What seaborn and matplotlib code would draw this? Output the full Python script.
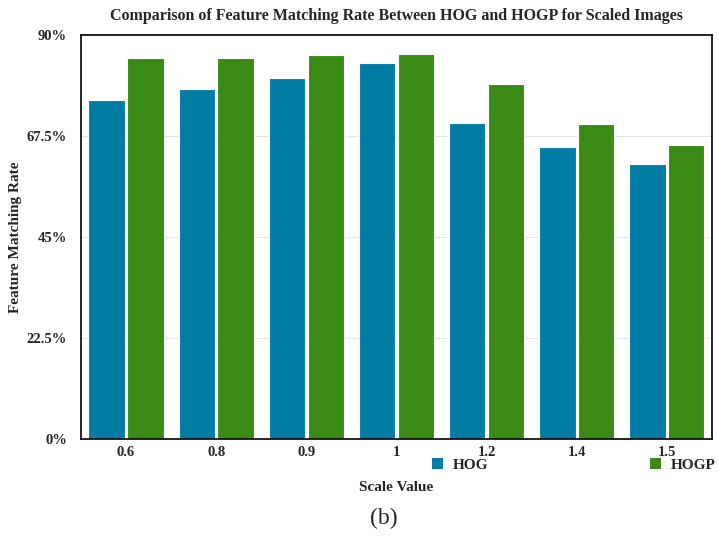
import numpy as np
import pandas as pd
import seaborn as sns
import matplotlib.pyplot as plt
from matplotlib.patches import Patch

scales = ["0.6", "0.8", "0.9", "1", "1.2", "1.4", "1.5"]
hog = [75.6, 77.9, 80.5, 83.7, 70.4, 65.0, 61.2]
hogp = [84.9, 84.9, 85.5, 85.8, 79.1, 70.1, 65.5]
methods = ["HOG", "HOGP"]
colors = ["#027ca3", "#3a8a16"]
yticks = [0, 22.5, 45, 67.5, 90]
ytick_labels = ["0%", "22.5%", "45%", "67.5%", "90%"]

df = pd.DataFrame({
    "scale": scales * 2,
    "rate": hog + hogp,
    "method": ["HOG"] * len(scales) + ["HOGP"] * len(scales),
})

sns.set_style("white")
plt.rcParams["font.family"] = ["Liberation Serif", "DejaVu Serif"]
plt.rcParams["font.weight"] = "bold"

fig = plt.figure(figsize=(7.18, 5.47), dpi=100)
ax = fig.add_axes([0.1128, 0.1974, 0.8788, 0.7386])

sns.barplot(data=df, x="scale", y="rate", hue="method", order=scales,
            hue_order=methods, palette=colors, width=0.86, gap=0.06,
            edgecolor="white", linewidth=0.8, saturation=1, ax=ax, legend=False)

ax.set_ylim(0, 90)
ax.set_xlim(-0.5, len(scales) - 0.5)
ax.set_yticks(yticks)
ax.set_yticklabels(ytick_labels)
ax.yaxis.grid(True, color="#e4e4e4", linewidth=0.8)
ax.set_axisbelow(True)
ax.tick_params(axis="y", length=0, labelsize=10.5, pad=10)
ax.tick_params(axis="x", length=0, labelsize=10.5, pad=5)
for lab in ax.get_xticklabels() + ax.get_yticklabels():
    lab.set_fontweight("bold")
for sp in ax.spines.values():
    sp.set_color("black")
    sp.set_linewidth(1.2)

ax.set_xlabel("Scale Value", fontsize=11, fontweight="bold")
ax.xaxis.set_label_coords(0.5, -0.104)
ax.set_ylabel("Feature Matching Rate", fontsize=11, fontweight="bold")
ax.yaxis.set_label_coords(-0.093, 0.5)
ax.set_title("Comparison of Feature Matching Rate Between HOG and HOGP for Scaled Images",
             fontsize=11.5, fontweight="bold", pad=11)

handles = [Patch(facecolor=c, edgecolor="none") for c in colors]
ax.legend(handles, methods, ncol=2, frameon=False, loc="upper left",
          bbox_to_anchor=(0.534, -0.012), handlelength=0.75, handleheight=0.75,
          handletextpad=0.6, columnspacing=10.6, prop={"weight": "bold", "size": 11})

fig.text(0.534, 0.053, "(b)", ha="center", va="center", fontsize=17,
         fontweight="normal")

fig.savefig("out.png", dpi=100)
